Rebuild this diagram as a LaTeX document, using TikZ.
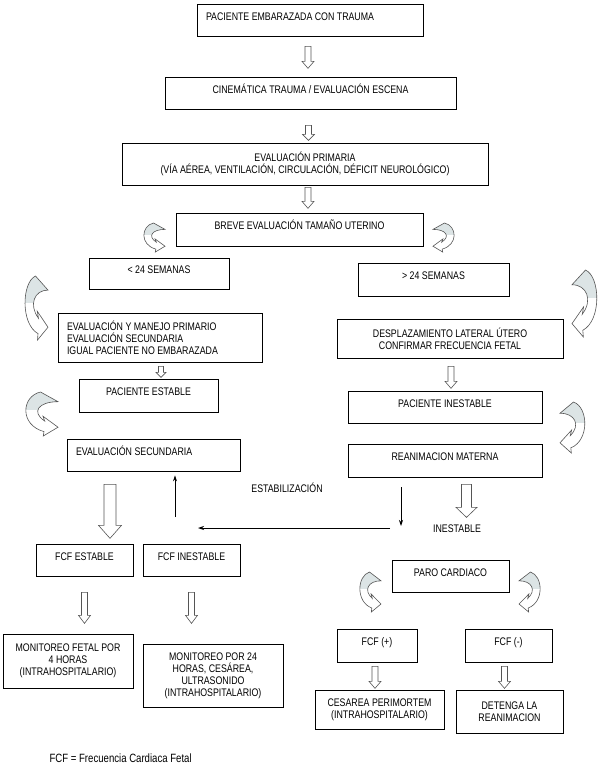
\documentclass[tikz,border=0pt]{standalone}
\usepackage{fontspec}
\setmainfont{Liberation Sans}[FakeStretch=0.8]
\usetikzlibrary{calc,arrows.meta}

\definecolor{arrowgrey}{HTML}{DCE4E5}
\definecolor{edgegrey}{HTML}{555555}

% hollow block arrow: top point, length, shaft half width, head half width, head length
\newcommand{\hollowarrow}[5]{%
  \draw[hollow] (#1) ++(-#3,0) -- ++(0,{#2-#5}) -- ++({#3-#4},0) -- ++(#4,#5)
    -- ++(#4,-#5) -- ++({#3-#4},0) -- ++(0,{#5-#2}) -- cycle;}

% curved arrow in a unit box, head pointing right
\def\curvepath{(0.5,0) -- (1,0.22) .. controls (0.45,0.22) and (0.22,0.45) .. (0.62,0.66)
  -- (0.57,0.55) -- (1,0.8) -- (0.58,1) -- (0.6,0.9)
  .. controls (-0.1,0.75) and (-0.05,0.1) .. (0.5,0) -- cycle}
\newcommand{\curvedarrow}[4]{%
  \begin{scope}[shift={(#1,#2)}, xscale=#3, yscale=#4]
    \fill[white] \curvepath;
    \begin{scope}
      \clip \curvepath;
      \fill[arrowgrey] (0,0) rectangle (1,0.42);
    \end{scope}
    \draw[curved] \curvepath;
  \end{scope}}

\begin{document}
\begin{tikzpicture}[x=1pt, y=-1pt,
    box/.style={draw, line width=0.7pt, inner sep=0pt, font=\fontsize{11}{12}\selectfont},
    one/.style={text height=8pt, text depth=8pt},
    lbox/.style={box, align=left, inner xsep=9pt,
      execute at begin node={\spaceskip=0pt\xspaceskip=0pt}},
    cbox/.style={box, align=center},
    lab/.style={font=\fontsize{11}{12}\selectfont},
    hollow/.style={draw=edgegrey, fill=white, line width=0.6pt},
    curved/.style={draw=edgegrey, line width=0.6pt},
    flow/.style={-{Stealth[length=6pt,width=4pt]}, line width=0.8pt}]
    \useasboundingbox (0,0) rectangle (599,769);

    \node [lbox, one, text width=208pt, minimum height=32pt] (PE) at (310,20) {PACIENTE EMBARAZADA CON TRAUMA};
    \node [box, one, minimum width=291pt, minimum height=32pt] (CT) at (310.5,93) {CINEMÁTICA TRAUMA / EVALUACIÓN ESCENA};
    \node [cbox, minimum width=366pt, minimum height=42pt] (EP) at (305,164) {EVALUACIÓN PRIMARIA\\(VÍA AÉREA, VENTILACIÓN, CIRCULACIÓN, DÉFICIT NEUROLÓGICO)};
    \node [box, one, minimum width=247pt, minimum height=33pt] (BE) at (299.5,229.5) {BREVE EVALUACIÓN TAMAÑO UTERINO};
    \node [box, one, minimum width=140pt, minimum height=31pt] (M24) at (159,273.5) {< 24 SEMANAS};
    \node [box, one, minimum width=151pt, minimum height=33pt] (S24) at (433.5,279.5) {> 24 SEMANAS};
    \node [lbox, text width=186pt, minimum height=49pt] (EM) at (160,337.5) {EVALUACIÓN Y MANEJO PRIMARIO\\EVALUACIÓN SECUNDARIA\\IGUAL PACIENTE NO EMBARAZADA};
    \node [cbox, minimum width=226pt, minimum height=39pt] (DL) at (450,338.5) {DESPLAZAMIENTO LATERAL ÚTERO\\CONFIRMAR FRECUENCIA FETAL};
    \node [box, one, minimum width=139pt, minimum height=33pt] (PS) at (148.5,395.5) {PACIENTE ESTABLE};
    \node [box, one, minimum width=194pt, minimum height=32pt] (PI) at (445,407) {PACIENTE INESTABLE};
    \node [lbox, one, text width=155pt, minimum height=32pt] (ES) at (153.5,455) {EVALUACIÓN SECUNDARIA};
    \node [box, one, minimum width=194pt, minimum height=33pt] (RM) at (445,460.5) {REANIMACION MATERNA};
    \node [box, one, minimum width=97pt, minimum height=32pt] (FE) at (84.5,560) {FCF ESTABLE};
    \node [box, one, minimum width=97pt, minimum height=32pt] (FI) at (191.5,560) {FCF INESTABLE};
    \node [box, one, minimum width=117pt, minimum height=32pt] (PC) at (450.5,576) {PARO CARDIACO};
    \node [cbox, minimum width=130pt, minimum height=54pt] (MF) at (68,661) {MONITOREO FETAL POR\\4 HORAS\\(INTRAHOSPITALARIO)};
    \node [cbox, minimum width=140pt, minimum height=63pt] (MP) at (213,675.5) {MONITOREO POR 24\\HORAS, CESÁREA,\\ULTRASONIDO\\(INTRAHOSPITALARIO)};
    \node [box, one, minimum width=80pt, minimum height=33pt] (FP) at (377,645.5) {FCF (+)};
    \node [box, one, minimum width=87pt, minimum height=33pt] (FN) at (508.5,645.5) {FCF (-)};
    \node [cbox, minimum width=129pt, minimum height=39pt] (CP) at (379.5,709.5) {CESAREA PERIMORTEM\\(INTRAHOSPITALARIO)};
    \node [cbox, minimum width=107pt, minimum height=43pt] (DR) at (509.5,711.5) {DETENGA LA\\REANIMACION};

    \node [lab] (estab) at (287,488) {ESTABILIZACIÓN};
    \node [lab] (inest) at (457,529) {INESTABLE};
    \node [anchor=west, font=\fontsize{12}{14}\selectfont] (nota) at (46,758) {FCF = Frecuencia Cardiaca Fetal};

    % block arrows
    \hollowarrow{$(PE.south)+(-2,10)$}{22}{3}{6}{7}
    \hollowarrow{$(CT.south)+(-2,16)$}{15}{3}{6}{6}
    \hollowarrow{$(EP.south)+(3,2)$}{21}{3}{6}{7}
    \hollowarrow{$(EM.south)+(1,4)$}{11}{2.5}{5}{5}
    \hollowarrow{$(DL.south)+(1,8)$}{22}{3}{6}{7}
    \hollowarrow{$(ES.south)+(-43.5,13)$}{54}{6}{11.5}{13}
    \hollowarrow{$(RM.south)+(21.5,7)$}{33}{5}{10.5}{10}
    \hollowarrow{$(FE.south)+(0,16)$}{31}{3}{6}{8}
    \hollowarrow{$(FI.south)+(0,16)$}{31}{3}{6}{8}
    \hollowarrow{$(FP.south)+(-2,4)$}{22}{3}{6}{7}
    \hollowarrow{$(FN.south)+(-4,4)$}{22}{3}{6}{7}

    % curved arrows
    \curvedarrow{142}{223}{23}{29}
    \curvedarrow{456}{223}{-23}{29}
    \curvedarrow{23}{276}{25}{64}
    \curvedarrow{599}{270}{-27}{67}
    \curvedarrow{23}{392}{35}{44}
    \curvedarrow{587}{402}{-27}{51}
    \curvedarrow{358}{572}{23}{40}
    \curvedarrow{542}{572}{-23}{40}

    % thin arrows
    \coordinate (U) at (175,517);
    \coordinate (D0) at (401,487);
    \coordinate (D1) at (401,526);
    \coordinate (H0) at (390,528);
    \coordinate (H1) at (198,528);
    \draw [flow, shorten >=4pt] (U) -- (U |- ES.south);
    \draw [flow] (D0) -- (D1);
    \draw [flow] (H0) -- (H1);
\end{tikzpicture}
\end{document}
